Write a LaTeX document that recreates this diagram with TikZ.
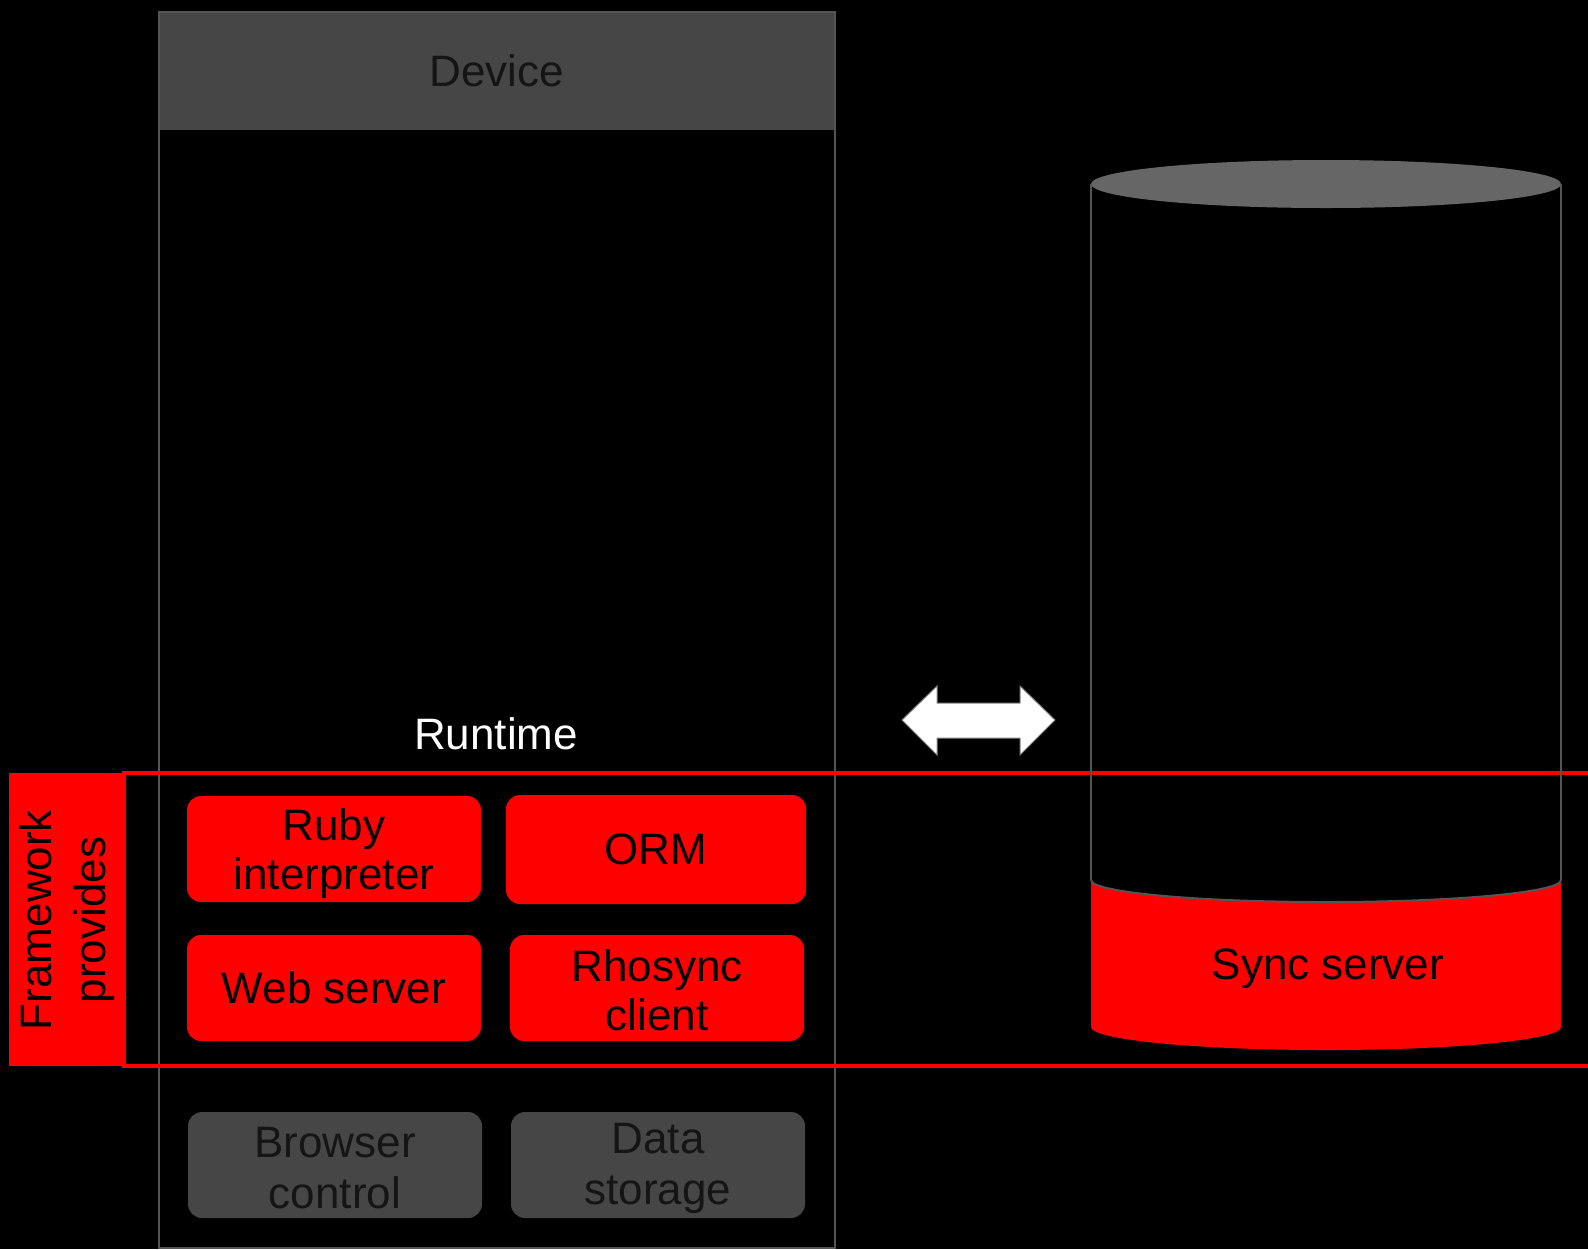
\documentclass[tikz,border=0pt]{standalone}
\usepackage{fontspec}
\setmainfont{Liberation Sans}
\definecolor{boxgray}{HTML}{464646}
\definecolor{edgegray}{HTML}{555555}
\definecolor{topgray}{HTML}{666666}
\definecolor{txtdark}{HTML}{151515}
\tikzset{
  comp/.style={rounded corners=7pt, minimum width=147pt, minimum height=53pt,
    inner sep=0pt, align=center, font=\fontsize{22}{24.5}\selectfont},
  redcomp/.style={comp, fill=red, text=black},
  graycomp/.style={comp, fill=boxgray, text=txtdark},
  inlabel/.style={align=center, inner sep=0pt, yshift=-2.5pt, font=\fontsize{22}{24.5}\selectfont},
  graylabel/.style={align=center, inner sep=0pt, yshift=-1.5pt, text=txtdark, font=\fontsize{22}{25.5}\selectfont},
}
\begin{document}
\begin{tikzpicture}[x=0.5pt,y=-0.5pt]
\clip (0,0) rectangle (1588,1249);
\fill[black] (0,0) rectangle (1588,1249);
% device
\fill[boxgray] (159,12) rectangle (835,130);
\draw[edgegray, line width=1pt] (159,12) rectangle (835,1248);
\node[text=txtdark, font=\fontsize{22}{24}\selectfont] (device) at (497,71) {Device};
\node[text=white, font=\fontsize{22}{24}\selectfont] (runtime) at (496,734) {Runtime};
% framework frame
\draw[red, line width=1.75pt] (124,773) rectangle (1600,1066);
\fill[red] (9,773) rectangle (124,1066);
\node[rotate=90, align=center, text=black, font=\fontsize{22}{27}\selectfont] (fw) at (67,920) {Framework\\provides};
% components
\node[redcomp, label={[inlabel]center:Ruby\\interpreter}] (ruby) at (334,849) {};
\node[redcomp, minimum width=150pt, minimum height=54.5pt] (orm) at (656,849.5) {ORM};
\node[redcomp] (web) at (334,988) {Web server};
\node[redcomp, label={[inlabel, yshift=1.5pt]center:Rhosync\\client}] (rhosync) at (657,988) {};
\node[graycomp, label={[graylabel]center:Browser\\control}] (browser) at (335,1165) {};
\node[graycomp, label={[graylabel]center:Data\\storage}] (data) at (658,1165) {};
% cylinder
\fill[topgray] (1326,184) ellipse [x radius=117.5pt, y radius=12pt];
\draw[edgegray, line width=1pt] (1091,184) -- (1091,880);
\draw[edgegray, line width=1pt] (1561,184) -- (1561,880);
\fill[red] (1091,880) -- (1091,1027) arc[start angle=180, end angle=360, x radius=117.5pt, y radius=11.5pt]
  -- (1561,880) arc[start angle=360, end angle=180, x radius=117.5pt, y radius=11pt] -- cycle;
\draw[edgegray, line width=1pt] (1091,880) arc[start angle=180, end angle=360, x radius=117.5pt, y radius=11pt];
\node[text=black, font=\fontsize{22}{24}\selectfont] (sync) at (1328,969) {Sync server};
% double arrow
\filldraw[fill=white, draw=gray, line width=0.5pt, line join=miter]
  (902,720) -- (937,686) -- (937,703) -- (1020,703) -- (1020,686) -- (1055,720)
  -- (1020,755) -- (1020,738) -- (937,738) -- (937,755) -- cycle;
\end{tikzpicture}
\end{document}
